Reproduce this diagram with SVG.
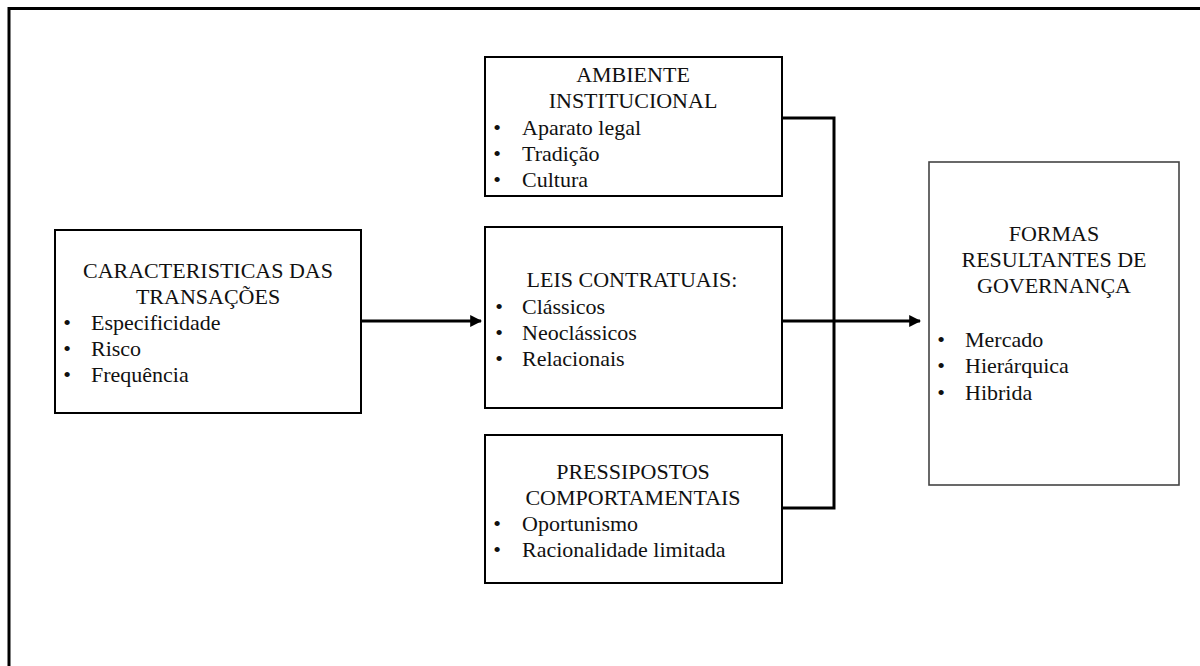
<svg xmlns="http://www.w3.org/2000/svg" width="1200" height="666" viewBox="0 0 1200 666">
  <style>
    .box { fill: #fff; stroke: #000; stroke-width: 2; }
    .box-out { fill: #fff; stroke: #444; stroke-width: 1.6; }
    .t { font-family: "Liberation Serif", "Times New Roman", serif; font-size: 22px; fill: #111; }
    .c { text-anchor: middle; }
    .b { text-anchor: middle; }
    .wire { fill: none; stroke: #000; stroke-width: 3; }
  </style>
  <defs>
    <marker id="arrow" viewBox="0 0 10 10" refX="9" refY="5" markerWidth="4" markerHeight="4" markerUnits="strokeWidth" orient="auto">
      <path d="M0,0 L10,5 L0,10 Z" fill="#000"/>
    </marker>
  </defs>

  <rect width="1200" height="666" fill="#fff"/>
  <!-- page frame -->
  <path d="M9,666 V8.5 H1200" fill="none" stroke="#000" stroke-width="3"/>

  <!-- connectors -->
  <g id="connectors">
    <path class="wire" d="M362,321 H481" marker-end="url(#arrow)"/>
    <path class="wire" d="M783,118 H834 V508 H783"/>
    <path class="wire" d="M783,321 H920" marker-end="url(#arrow)"/>
  </g>

  <g id="caracteristicas">
    <rect class="box" x="55" y="230" width="306" height="183"/>
    <text class="t c" x="208" y="278">CARACTERISTICAS DAS</text>
    <text class="t c" x="208" y="304">TRANSAÇÕES</text>
    <text class="t b" x="67" y="330">•</text><text class="t" x="91" y="330">Especificidade</text>
    <text class="t b" x="67" y="356">•</text><text class="t" x="91" y="356">Risco</text>
    <text class="t b" x="67" y="382">•</text><text class="t" x="91" y="382">Frequência</text>
  </g>

  <g id="ambiente">
    <rect class="box" x="485" y="57" width="297" height="139"/>
    <text class="t c" x="633" y="82">AMBIENTE</text>
    <text class="t c" x="633" y="108">INSTITUCIONAL</text>
    <text class="t b" x="497" y="135">•</text><text class="t" x="522" y="135">Aparato legal</text>
    <text class="t b" x="497" y="161">•</text><text class="t" x="522" y="161">Tradição</text>
    <text class="t b" x="497" y="187">•</text><text class="t" x="522" y="187">Cultura</text>
  </g>

  <g id="leis">
    <rect class="box" x="485" y="227" width="297" height="181"/>
    <text class="t c" x="632" y="287">LEIS CONTRATUAIS:</text>
    <text class="t b" x="499" y="314">•</text><text class="t" x="522" y="314">Clássicos</text>
    <text class="t b" x="499" y="340">•</text><text class="t" x="522" y="340">Neoclássicos</text>
    <text class="t b" x="499" y="366">•</text><text class="t" x="522" y="366">Relacionais</text>
  </g>

  <g id="pressupostos">
    <rect class="box" x="485" y="435" width="297" height="148"/>
    <text class="t c" x="633" y="479">PRESSIPOSTOS</text>
    <text class="t c" x="633" y="505">COMPORTAMENTAIS</text>
    <text class="t b" x="497" y="531">•</text><text class="t" x="522" y="531">Oportunismo</text>
    <text class="t b" x="497" y="557">•</text><text class="t" x="522" y="557">Racionalidade limitada</text>
  </g>

  <g id="formas">
    <rect class="box-out" x="929" y="162" width="250" height="323"/>
    <text class="t c" x="1054" y="241">FORMAS</text>
    <text class="t c" x="1054" y="267">RESULTANTES DE</text>
    <text class="t c" x="1054" y="293">GOVERNANÇA</text>
    <text class="t b" x="941" y="347">•</text><text class="t" x="965" y="347">Mercado</text>
    <text class="t b" x="941" y="373">•</text><text class="t" x="965" y="373">Hierárquica</text>
    <text class="t b" x="941" y="400">•</text><text class="t" x="965" y="400">Hibrida</text>
  </g>
</svg>
